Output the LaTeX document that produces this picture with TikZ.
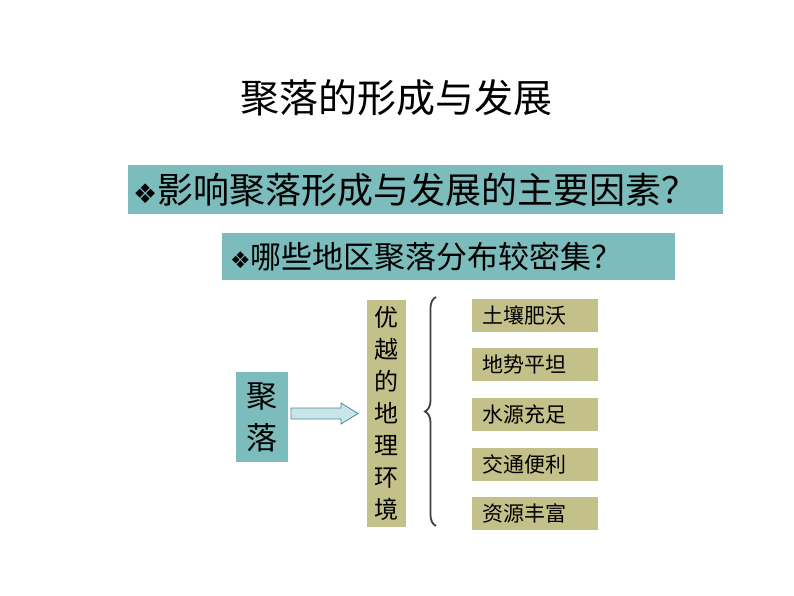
\documentclass[tikz,border=0pt]{standalone}
\usepackage{fontspec}
\newfontfamily\cjk{Noto Sans CJK SC}
\newfontfamily\sym{DejaVu Sans}
\usetikzlibrary{decorations.pathreplacing}
\definecolor{tealbox}{RGB}{124,188,188}
\definecolor{olivebox}{RGB}{196,192,138}
\definecolor{arrowfill}{RGB}{200,230,234}
\definecolor{arrowline}{RGB}{74,138,150}
\tikzset{
  tealrect/.style={fill=tealbox, draw=none, inner sep=0pt},
  olivrect/.style={fill=olivebox, draw=none, inner sep=0pt},
  itembox/.style={olivrect, minimum width=126pt, minimum height=33pt},
  itemtext/.style={anchor=west, inner sep=0pt, font=\cjk\fontsize{21}{21}\selectfont, text=black},
}
\begin{document}
\begin{tikzpicture}[x=1pt,y=-1pt]
\useasboundingbox (0,0) rectangle (794,596);
\fill[white] (0,0) rectangle (794,596);
% title
\node[font=\cjk\fontsize{39}{39}\selectfont, inner sep=0pt] (title) at (396,98) {聚落的形成与发展};
% box 1
\node[tealrect, minimum width=595pt, minimum height=49pt] (q1) at (425.5,189.5) {};
\node[anchor=west, inner sep=0pt, font=\cjk\fontsize{36}{36}\selectfont] (q1t) at (133,190) {{\sym\fontsize{27}{27}\selectfont ❖}影响聚落形成与发展的主要因素？};
% box 2
\node[tealrect, minimum width=453pt, minimum height=47pt] (q2) at (448.5,256.5) {};
\node[anchor=west, inner sep=0pt, font=\cjk\fontsize{31}{31}\selectfont] (q2t) at (230,257) {{\sym\fontsize{23}{23}\selectfont ❖}哪些地区聚落分布较密集？};
% 聚落
\node[tealrect, minimum width=52pt, minimum height=90pt, font=\cjk\fontsize{31}{36}\selectfont, align=center] (jl) at (262,417) {聚\\[6pt]落};
% arrow
\draw[fill=arrowfill, draw=arrowline, line width=0.8pt, line join=miter]
  (291,408) -- (341,408) -- (341,403) -- (358,413.5) -- (341,424) -- (341,419) -- (291,419) -- cycle;
% vertical env box
\node[olivrect, minimum width=39pt, minimum height=227pt, font=\cjk\fontsize{24}{32}\selectfont, align=center] (env) at (386.5,413.5) {优\\越\\的\\地\\理\\环\\境};
% brace
\coordinate (bt) at (436,297);
\coordinate (bb) at (436,526);
\draw[line width=1.8pt, color=black!75, decorate, decoration={brace, amplitude=11pt}] (bb) -- (bt);
% items
\node[itembox] (i1) at (535,315) {};
\node[itembox] (i2) at (535,364.5) {};
\node[itembox] (i3) at (535,414.5) {};
\node[itembox] (i4) at (535,464.5) {};
\node[itembox] (i5) at (535,513.5) {};
\node[itemtext] (t1) at (482,315) {土壤肥沃};
\node[itemtext] (t2) at (482,364.5) {地势平坦};
\node[itemtext] (t3) at (482,414.5) {水源充足};
\node[itemtext] (t4) at (482,464.5) {交通便利};
\node[itemtext] (t5) at (482,513.5) {资源丰富};
\end{tikzpicture}
\end{document}
